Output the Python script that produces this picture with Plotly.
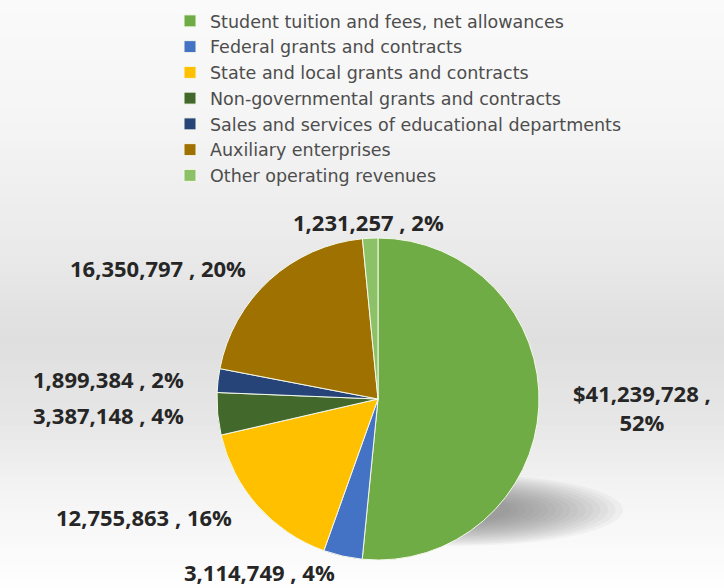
import math
import plotly.graph_objects as go

categories = [
    "Student tuition and fees, net allowances",
    "Federal grants and contracts",
    "State and local grants and contracts",
    "Non-governmental grants and contracts",
    "Sales and services of educational departments",
    "Auxiliary enterprises",
    "Other operating revenues",
]
values = [41239728, 3114749, 12755863, 3387148, 1899384, 16350797, 1231257]
colors = ["#6FAC46", "#4472C4", "#FFC000", "#43682B", "#264478", "#9E7100", "#8CC168"]

W, H = 724, 588
cx, cy, R = 378, 399, 161      # pie centre / radius (px)

fig = go.Figure()
fig.add_trace(go.Pie(
    labels=categories, values=values, sort=False, direction="clockwise", rotation=0,
    marker=dict(colors=colors, line=dict(color="#f4f8ea", width=1)),
    textinfo="none", hoverinfo="label+value+percent",
    domain=dict(x=[(cx - R) / W, (cx + R) / W], y=[1 - (cy + R) / H, 1 - (cy - R) / H]),
    showlegend=True,
))

# background gradient bands
stops = [(0, 250), (120, 245), (250, 234), (340, 223), (420, 230), (500, 245), (588, 254)]
shapes = []
n = 80
for i in range(n):
    y0 = H * i / n
    y1 = H * (i + 1) / n
    ym = (y0 + y1) / 2
    for j in range(len(stops) - 1):
        if stops[j][0] <= ym <= stops[j + 1][0]:
            t = (ym - stops[j][0]) / (stops[j + 1][0] - stops[j][0])
            g = round(stops[j][1] + t * (stops[j + 1][1] - stops[j][1]))
            break
    shapes.append(dict(type="rect", xref="paper", yref="paper", x0=0, x1=1,
                       y0=1 - y1 / H, y1=1 - y0 / H + 0.002, line=dict(width=0),
                       fillcolor=f"rgb({g},{g},{g})", layer="below"))
# soft shadow (many faint layers)
mx, my, hx0, hy0 = 457, 510, 166, 36
layers = 16
for k in range(layers):
    a = 1.0 - k * 0.045
    shapes.append(dict(type="circle", xref="paper", yref="paper",
                       x0=(mx - hx0 * a) / W, x1=(mx + hx0 * a) / W,
                       y0=1 - (my + hy0 * a) / H, y1=1 - (my - hy0 * a) / H,
                       line=dict(width=0), fillcolor="rgba(100,100,100,0.05)", layer="below"))

# data labels computed from slice angles
total = sum(values)
rx, ry = 194, 177
annotations = []
cum = 0
for i, v in enumerate(values):
    mid = (cum + v / 2) / total
    cum += v
    ang = 2 * math.pi * mid
    dx, dy = math.sin(ang), -math.cos(ang)
    px, py = cx + dx * rx, cy + dy * ry
    pct = round(100 * v / total)
    if i == 0:
        text = f"${v:,} ,<br>{pct}%"
    else:
        text = f"{v:,} , {pct}%"
    if dx > 0.3:
        xa = "left"
    elif dx < -0.15:
        xa = "right"
    else:
        xa = "center"
    annotations.append(dict(x=px / W, y=1 - py / H, xref="paper", yref="paper",
                            text=text, showarrow=False, xanchor=xa, yanchor="middle", align="center",
                            borderpad=0,
                            font=dict(family="Open Sans", size=22, color="#262626", weight="bold")))

fig.update_layout(
    width=W, height=H, margin=dict(l=0, r=0, t=0, b=0),
    paper_bgcolor="white", plot_bgcolor="white",
    shapes=shapes, annotations=annotations,
    legend=dict(x=170 / W, y=1 - 3 / H, xanchor="left", yanchor="top",
                bgcolor="rgba(0,0,0,0)", font=dict(family="DejaVu Sans", size=17.5, color="#4d4d4d"),
                itemwidth=30, tracegroupgap=0),
    font=dict(family="Open Sans"),
)
fig.write_html("out.html", config={"displayModeBar": False},
               post_script="document.body.style.margin='0';")
